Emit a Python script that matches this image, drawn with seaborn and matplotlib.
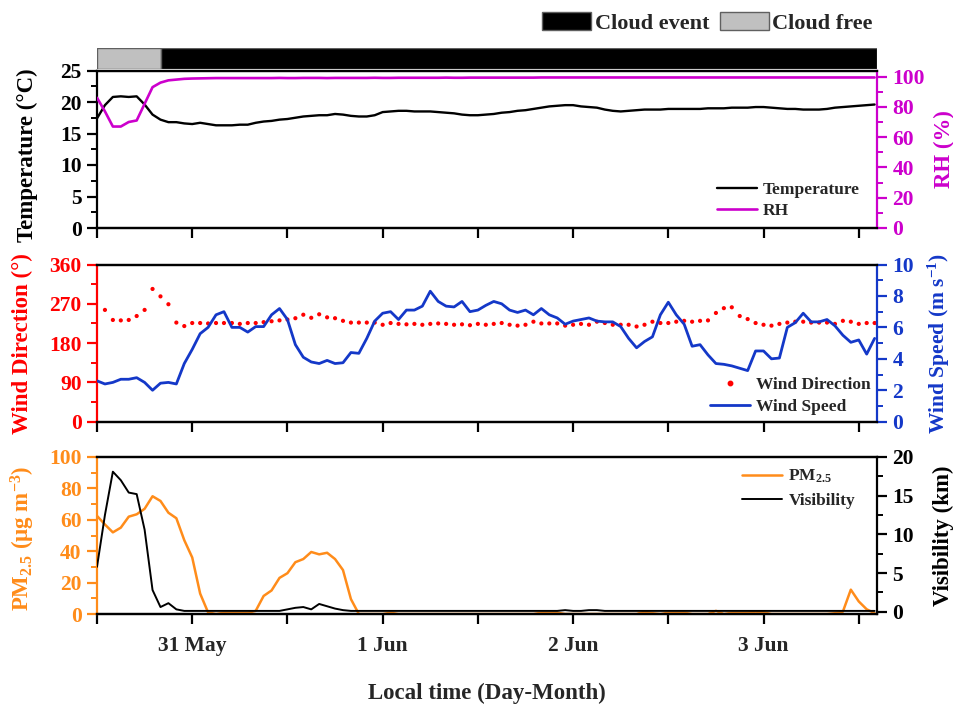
import numpy as np
import pandas as pd
import matplotlib
matplotlib.use("Agg")
import matplotlib.pyplot as plt
from matplotlib.lines import Line2D
from matplotlib.patches import Patch
from matplotlib.ticker import MultipleLocator
import seaborn as sns

nan = np.nan

# ---------------- data (hours since 30 May 12:00) ----------------
hours = list(range(99))

temperature = [17.4, 19.5, 20.8, 20.9, 20.8, 20.9, 19.6, 18.0, 17.2, 16.8,
               16.8, 16.6, 16.5, 16.7, 16.5, 16.3, 16.3, 16.3, 16.4, 16.4,
               16.7, 16.9, 17.0, 17.2, 17.3, 17.5, 17.7, 17.8, 17.9, 17.9,
               18.1, 18.0, 17.8, 17.7, 17.7, 17.9, 18.4, 18.5, 18.6, 18.6,
               18.5, 18.5, 18.5, 18.4, 18.3, 18.2, 18.0, 17.9, 17.9, 18.0,
               18.1, 18.3, 18.4, 18.6, 18.7, 18.9, 19.1, 19.3, 19.4, 19.5,
               19.5, 19.3, 19.2, 19.1, 18.8, 18.6, 18.5, 18.6, 18.7, 18.8,
               18.8, 18.8, 18.9, 18.9, 18.9, 18.9, 18.9, 19.0, 19.0, 19.0,
               19.1, 19.1, 19.1, 19.2, 19.2, 19.1, 19.0, 18.9, 18.9, 18.8,
               18.8, 18.8, 18.9, 19.1, 19.2, 19.3, 19.4, 19.5, 19.6]

rh = [86, 77, 67, 67, 70, 71, 82, 93, 96, 97.5,
      98.0, 98.5, 98.7, 98.8, 98.9, 99.0, 99.0, 99.0, 99.0, 99.0,
      99.0, 99.0, 99.0, 99.1, 99.0, 99.0, 99.1, 99.1, 99.1, 99.0,
      99.1, 99.1, 99.1, 99.1, 99.1, 99.2, 99.1, 99.1, 99.2, 99.2,
      99.2, 99.2, 99.2, 99.2, 99.3, 99.2, 99.2, 99.3, 99.3, 99.3,
      99.3, 99.3, 99.3, 99.3, 99.3, 99.3, 99.4, 99.4, 99.4, 99.4,
      99.4, 99.4, 99.4, 99.4, 99.4, 99.4, 99.4, 99.4, 99.4, 99.4,
      99.4, 99.4, 99.4, 99.4, 99.4, 99.4, 99.4, 99.4, 99.4, 99.4,
      99.4, 99.4, 99.4, 99.4, 99.4, 99.4, 99.4, 99.4, 99.4, 99.4,
      99.4, 99.4, 99.4, 99.4, 99.4, 99.4, 99.4, 99.4, 99.4]

wind_direction = [nan, 256, 233, 232, 233, 242, 256, 304, 287, 269,
                  227, 219, 226, 226, 225, 226, 226, 226, 224, 226,
                  226, 228, 230, 232, 234, 237, 245, 238, 246, 239,
                  237, 231, 227, 227, 227, 227, 222, 226, 224, 223,
                  224, 222, 224, 225, 224, 222, 223, 221, 224, 222,
                  224, 226, 222, 220, 222, 229, 225, 225, 225, 220,
                  222, 224, 222, 229, 226, 222, 222, 222, 218, 222,
                  229, 226, 226, 229, 231, 229, 231, 232, 249, 260,
                  262, 242, 235, 226, 222, 220, 224, 227, 229, 229,
                  227, 227, 227, 224, 231, 229, 224, 226, 226]

wind_speed = [2.6, 2.4, 2.5, 2.7, 2.7, 2.8, 2.5, 2.0, 2.45, 2.5,
              2.4, 3.7, 4.6, 5.6, 6.0, 6.8, 7.0, 6.0, 6.0, 5.7,
              6.05, 6.05, 6.8, 7.2, 6.5, 4.9, 4.1, 3.8, 3.7, 3.9,
              3.7, 3.75, 4.4, 4.35, 5.3, 6.4, 6.9, 7.0, 6.5, 7.1,
              7.1, 7.35, 8.3, 7.65, 7.35, 7.3, 7.65, 7.0, 7.1, 7.4,
              7.65, 7.5, 7.1, 6.95, 7.1, 6.8, 7.2, 6.8, 6.6, 6.2,
              6.4, 6.5, 6.6, 6.4, 6.35, 6.35, 6.05, 5.3, 4.7, 5.1,
              5.4, 6.8, 7.6, 6.8, 6.2, 4.8, 4.9, 4.25, 3.7, 3.65,
              3.55, 3.4, 3.25, 4.5, 4.5, 4.0, 4.05, 6.0, 6.3, 6.9,
              6.35, 6.35, 6.5, 6.1, 5.5, 5.05, 5.2, 4.3, 5.3]

pm25 = [62.5, 57, 52, 55, 62, 63.5, 67, 75, 72, 64.5,
        61, 47, 36, 13, 1, 0, 0.8, 0.8, 0.8, 0.8,
        2, 11.5, 15, 23, 26, 33, 35, 39.5, 38, 39,
        35, 28, 9.5, 0, 0, 0, 0, 0.8, 0, 0,
        0, 0, 0, 0, 0, 0, 0, 0, 0, 0,
        0, 0, 0, 0, 0, 0, 0.8, 0.8, 0.8, 0,
        0, 0, 0, 0, 0, 0, 0, 0, 0, 1.5,
        0.5, 0, 0.8, 0.8, 0.8, 0, 0, 0, 2, 0,
        0.8, 0.8, 0.8, 1.5, 1, 0, 0, 0, 0, 0,
        0, 0, 0, 0.5, 1.5, 15.5, 8, 3, 0.5]

visibility = [5.8, 12.5, 18.1, 17.0, 15.4, 15.2, 10.6, 2.8, 0.6, 1.1,
              0.3, 0.1, 0.1, 0.1, 0.1, 0.1, 0.1, 0.1, 0.1, 0.1,
              0.1, 0.1, 0.1, 0.1, 0.3, 0.5, 0.6, 0.3, 1.0, 0.7,
              0.4, 0.2, 0.1, 0.1, 0.1, 0.1, 0.1, 0.1, 0.1, 0.1,
              0.1, 0.1, 0.1, 0.1, 0.1, 0.1, 0.1, 0.1, 0.1, 0.1,
              0.1, 0.1, 0.1, 0.1, 0.1, 0.1, 0.1, 0.1, 0.1, 0.2,
              0.1, 0.1, 0.2, 0.2, 0.1, 0.1, 0.1, 0.1, 0.1, 0.1,
              0.1, 0.1, 0.1, 0.1, 0.1, 0.1, 0.1, 0.1, 0.1, 0.1,
              0.1, 0.1, 0.1, 0.1, 0.1, 0.1, 0.1, 0.1, 0.1, 0.1,
              0.1, 0.1, 0.1, 0.1, 0.1, 0.1, 0.1, 0.1, 0.1]

x_ticks = [0, 12, 24, 36, 48, 60, 72, 84, 96]
x_tick_labels = ["", "31 May", "", "1 Jun", "", "2 Jun", "", "3 Jun", ""]

cloud_labels = ["Cloud free", "Cloud event"]
cloud_start = [0, 8.1]
cloud_end = [8.1, 98.3]

# ---------------- style ----------------
sns.set_theme(style="ticks")
plt.rcParams["font.family"] = ["Liberation Serif", "DejaVu Serif"]
plt.rcParams["font.weight"] = "bold"
plt.rcParams["axes.labelweight"] = "bold"
plt.rcParams["mathtext.fontset"] = "custom"
plt.rcParams["mathtext.rm"] = "Liberation Serif:bold"
plt.rcParams["mathtext.bf"] = "Liberation Serif:bold"
plt.rcParams["mathtext.it"] = "Liberation Serif:italic:bold"
plt.rcParams["mathtext.default"] = "bf"

C_RH = "#CC00CC"
C_WD = "#FF0000"
C_WS = "#1438C8"
C_PM = "#FF8C1A"

TICK_FS = 15.5
LAB_FS = 16.5
LEG_FS = 12.5

df = pd.DataFrame({"hour": hours, "temperature": temperature, "rh": rh,
                   "wd": wind_direction, "ws": wind_speed,
                   "pm": pm25, "vis": visibility})

fig = plt.figure(figsize=(9.54, 7.05), dpi=100)
L, W = 97 / 954, 780 / 954
XMAX = 98.3

def px_axes(top_px, bot_px):
    return fig.add_axes([L, 1 - bot_px / 705, W, (bot_px - top_px) / 705])

ax_bar = px_axes(47.7, 69.0)
ax1 = px_axes(70.5, 228.0)
ax2 = px_axes(264.5, 421.7)
ax3 = px_axes(457.0, 614.0)

def style_pair(ax, axr, lcol, rcol, lmaj, lmin, rmaj, rmin):
    for a in (ax, axr):
        a.set_xlim(0, XMAX)
        a.set_xticks(x_ticks)
        a.tick_params(axis="x", which="major", direction="out", length=7,
                      width=1.6, color="black", labelsize=TICK_FS, pad=9)
        for s in ("top", "bottom"):
            a.spines[s].set_color("black")
            a.spines[s].set_linewidth(1.6)
    ax.spines["right"].set_visible(False)
    axr.spines["left"].set_visible(False)
    ax.spines["left"].set_color(lcol)
    ax.spines["left"].set_linewidth(1.6)
    axr.spines["right"].set_color(rcol)
    axr.spines["right"].set_linewidth(1.6)
    ax.yaxis.set_major_locator(MultipleLocator(lmaj))
    ax.yaxis.set_minor_locator(MultipleLocator(lmin))
    axr.yaxis.set_major_locator(MultipleLocator(rmaj))
    axr.yaxis.set_minor_locator(MultipleLocator(rmin))
    ax.tick_params(axis="y", which="major", direction="out", length=7, width=1.6,
                   colors=lcol, labelsize=TICK_FS, pad=4)
    ax.tick_params(axis="y", which="minor", direction="out", length=4, width=1.4,
                   colors=lcol)
    axr.tick_params(axis="y", which="major", direction="out", length=7, width=1.6,
                    colors=rcol, labelsize=TICK_FS, pad=4)
    axr.tick_params(axis="y", which="minor", direction="out", length=4, width=1.4,
                    colors=rcol)
    for t in ax.get_yticklabels() + axr.get_yticklabels() + ax.get_xticklabels():
        t.set_fontweight("bold")

# ---------------- cloud bar ----------------
ax_bar.barh([0, 0], [e - s for s, e in zip(cloud_start, cloud_end)], left=cloud_start,
            height=1.0, color=["#C0C0C0", "black"], edgecolor="#606060", linewidth=1.0)
ax_bar.set_xlim(0, XMAX)
ax_bar.set_ylim(-0.5, 0.5)
ax_bar.axis("off")

fig.legend(handles=[Patch(facecolor="black", edgecolor="#606060"),
                    Patch(facecolor="#C0C0C0", edgecolor="#606060")],
           labels=["Cloud event", "Cloud free"], ncol=2, frameon=False,
           loc="center right", bbox_to_anchor=(0.915, 0.967),
           prop={"size": 16, "weight": "bold"}, handlelength=2.2, handleheight=0.85,
           handletextpad=0.15, columnspacing=0.5, borderpad=0, borderaxespad=0)

# ---------------- panel 1 ----------------
ax1r = ax1.twinx()
sns.lineplot(data=df, x="hour", y="temperature", ax=ax1, color="black", linewidth=1.7)
sns.lineplot(data=df, x="hour", y="rh", ax=ax1r, color=C_RH, linewidth=1.9)
ax1.set_ylim(0, 25)
ax1r.set_ylim(0, 104)
style_pair(ax1, ax1r, "black", C_RH, 5, 2.5, 20, 10)
ax1.set_xticklabels([])
ax1.set_xlabel("")
ax1r.set_xlabel("")
ax1.set_ylabel("Temperature (°C)", fontsize=LAB_FS, color="black", fontweight="bold")
ax1r.set_ylabel("RH (%)", fontsize=LAB_FS, color=C_RH, fontweight="bold")
ax1.yaxis.set_label_coords(-0.076, 0.46)
ax1r.yaxis.set_label_coords(1.073, 0.5)
ax1r.legend(handles=[Line2D([], [], color="black", lw=1.7), Line2D([], [], color=C_RH, lw=1.9)],
            labels=["Temperature", "RH"], loc="lower right", bbox_to_anchor=(0.978, 0.055),
            frameon=False, prop={"size": LEG_FS, "weight": "bold"}, handlelength=2.3,
            handletextpad=0.35, labelspacing=0.3, borderpad=0, borderaxespad=0)

# ---------------- panel 2 ----------------
ax2r = ax2.twinx()
sns.scatterplot(data=df, x="hour", y="wd", ax=ax2, color=C_WD, s=9, edgecolor="none")
sns.lineplot(data=df, x="hour", y="ws", ax=ax2r, color=C_WS, linewidth=2.0)
ax2.set_ylim(0, 360)
ax2r.set_ylim(0, 10)
style_pair(ax2, ax2r, C_WD, C_WS, 90, 45, 2, 1)
ax2.set_xticklabels([])
ax2.set_xlabel("")
ax2r.set_xlabel("")
ax2.set_ylabel("Wind Direction (°)", fontsize=LAB_FS, color=C_WD, fontweight="bold")
ax2r.set_ylabel("Wind Speed (m s$^{-1}$)", fontsize=15.5, color=C_WS, fontweight="bold")
ax2.yaxis.set_label_coords(-0.082, 0.5)
ax2r.yaxis.set_label_coords(1.062, 0.5)
ax2r.legend(handles=[Line2D([], [], color=C_WD, ls="none", marker="o", ms=3.2),
                     Line2D([], [], color=C_WS, lw=2.0)],
            labels=["Wind Direction", "Wind Speed"], loc="lower right",
            bbox_to_anchor=(0.992, 0.045), frameon=False,
            prop={"size": LEG_FS, "weight": "bold"}, handlelength=2.3,
            handletextpad=0.35, labelspacing=0.3, borderpad=0, borderaxespad=0)

# ---------------- panel 3 ----------------
ax3r = ax3.twinx()
sns.lineplot(data=df, x="hour", y="pm", ax=ax3, color=C_PM, linewidth=1.8)
sns.lineplot(data=df, x="hour", y="vis", ax=ax3r, color="black", linewidth=1.4)
ax3.set_ylim(0, 100)
ax3r.set_ylim(-0.3, 20)
style_pair(ax3, ax3r, C_PM, "black", 20, 10, 5, 2.5)
ax3r.tick_params(axis="x", labelbottom=False)
ax3.set_xticklabels(x_tick_labels, fontweight="bold")
ax3.set_xlabel("")
ax3r.set_xlabel("")
ax3.set_ylabel("PM$_{2.5}$ (μg m$^{-3}$)", fontsize=LAB_FS, color=C_PM, fontweight="bold")
ax3r.set_ylabel("Visibility (km)", fontsize=LAB_FS, color="black", fontweight="bold")
ax3.yaxis.set_label_coords(-0.077, 0.48)
ax3r.yaxis.set_label_coords(1.071, 0.5)
ax3r.legend(handles=[Line2D([], [], color=C_PM, lw=1.8), Line2D([], [], color="black", lw=1.4)],
            labels=["PM$_{2.5}$", "Visibility"], loc="upper right",
            bbox_to_anchor=(0.972, 0.93), frameon=False,
            prop={"size": LEG_FS, "weight": "bold"}, handlelength=2.3,
            handletextpad=0.35, labelspacing=0.45, borderpad=0, borderaxespad=0)

fig.text(0.51, 0.017, "Local time (Day-Month)", ha="center", va="center",
         fontsize=LAB_FS, fontweight="bold")

fig.savefig("out.png", dpi=100)
